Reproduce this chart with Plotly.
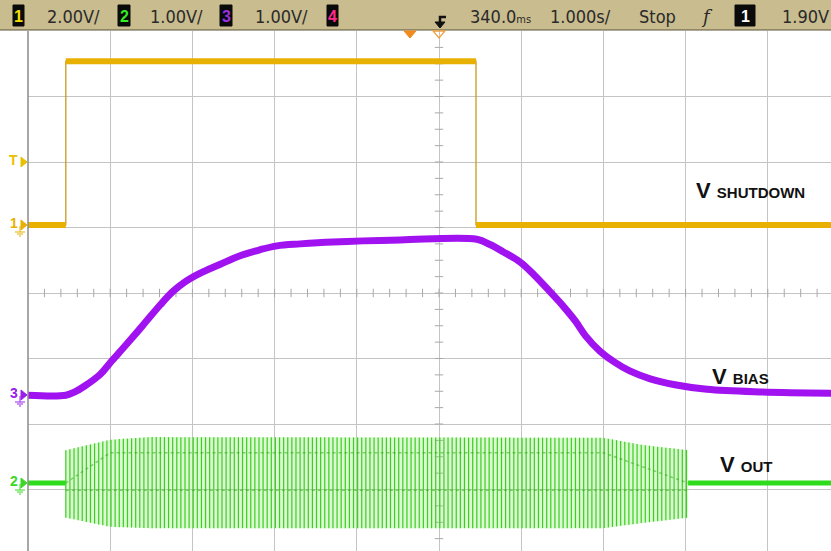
import numpy as np
import plotly.graph_objects as go

# ---- scope header ----
header_badges = ["1", "2", "3", "4"]
badge_colors = ["#f2e000", "#33ee22", "#9a30e0", "#ff2a8a"]
channel_scales = ["2.00V/", "1.00V/", "1.00V/"]
time_delay = "340.0"
time_unit = "ms"
time_scale = "1.000s/"
run_state = "Stop"
trig_channel = "1"
trig_level = "1.90V"

# ---- channel 1: V SHUTDOWN (2 V/div, ground at +1.04 div) ----
ch1_t = [0.0, 0.46, 0.46, 5.45, 5.45, 9.77]
ch1_v = [0.0, 0.0, 5.0, 5.0, 0.0, 0.0]
ch1_scale, ch1_offset = 2.0, 1.04

# ---- channel 3: V BIAS (1 V/div, ground at -1.56 div) ----
ch3_t = [0.0, 0.46, 0.57, 0.69, 0.88, 1.01, 1.18, 1.40, 1.61, 1.76, 1.91, 2.09, 2.34,
         2.58, 2.82, 3.03, 3.31, 3.71, 4.53, 5.46, 5.62, 5.78, 5.99, 6.17, 6.35, 6.51,
         6.66, 6.78, 6.96, 7.14, 7.32, 7.57, 7.87, 8.26, 8.91, 9.77]
ch3_v = [0.0, 0.0, 0.05, 0.14, 0.32, 0.51, 0.75, 1.07, 1.38, 1.58, 1.73, 1.86, 2.00,
         2.13, 2.22, 2.28, 2.31, 2.34, 2.37, 2.38, 2.30, 2.19, 2.03, 1.82, 1.58, 1.36,
         1.13, 0.91, 0.67, 0.50, 0.37, 0.25, 0.16, 0.09, 0.05, 0.03]
ch3_scale, ch3_offset = 1.0, -1.56

# ---- channel 2: V OUT (1 V/div, ground at -2.90 div), burst envelope ----
ch2_env_t = [0.46, 1.00, 1.48, 7.00, 7.48, 8.03]
ch2_env_hi = [0.50, 0.66, 0.70, 0.69, 0.58, 0.50]
ch2_env_lo = [-0.53, -0.67, -0.69, -0.69, -0.61, -0.53]
ch2_inner_t = [0.46, 1.00, 7.00, 8.03]
ch2_inner_hi = [0.0, 0.46, 0.46, 0.0]
ch2_inner_mid = [-0.11, -0.11, -0.11, -0.11]
ch2_idle_t = [[0.0, 0.46], [8.03, 9.77]]
ch2_period = 0.05
ch2_scale, ch2_offset = 1.0, -2.90

labels = [("V", "SHUTDOWN"), ("V", "BIAS"), ("V", "OUT")]

W, H = 831, 551
L, T = 28, 31
X_MAX = (W - L) / 82.2
Y_TOP = 4.0
Y_BOT = Y_TOP - (H - T) / 65.5


def px(X):
    return (X - L) / (W - L)


def py(Y):
    return (H - Y) / (H - T)


def div(v, scale, offset):
    return [None if a is None else a / scale + offset for a in v]


YELLOW = "#e8b000"
PURPLE = "#a012f0"
GREEN = "#2fdc1c"

fig = go.Figure()

# center-line minor ticks
tx = list(np.arange(0.2, X_MAX, 0.2))
fig.add_trace(go.Scatter(x=tx, y=[0] * len(tx), mode="markers",
                         marker=dict(symbol="line-ns", size=6, line=dict(color="#a8a8a8", width=1)),
                         hoverinfo="skip", showlegend=False))
ty = list(np.arange(-3.75, 4.0, 0.25))
fig.add_trace(go.Scatter(x=[5.0] * len(ty), y=ty, mode="markers",
                         marker=dict(symbol="line-ew", size=6, line=dict(color="#a8a8a8", width=1)),
                         hoverinfo="skip", showlegend=False))

# channel 2 burst
t_env = np.array(ch2_env_t)
hi = np.array(ch2_env_hi)
lo = np.array(ch2_env_lo)
fig.add_trace(go.Scatter(x=list(t_env) + list(t_env[::-1]),
                         y=div(list(hi) + list(lo[::-1]), ch2_scale, ch2_offset),
                         fill="toself", fillcolor="rgba(140,228,110,0.30)", mode="none",
                         hoverinfo="skip", showlegend=False))
sx, sy = [], []
for t in np.arange(ch2_env_t[0], ch2_env_t[-1], ch2_period):
    sx += [t, t, None]
    sy += [np.interp(t, t_env, lo), np.interp(t, t_env, hi), None]
fig.add_trace(go.Scatter(x=sx, y=div(sy, ch2_scale, ch2_offset), mode="lines",
                         line=dict(color="rgba(50,205,20,0.95)", width=1.2),
                         hoverinfo="skip", showlegend=False))
for inner in (ch2_inner_hi, ch2_inner_mid):
    fig.add_trace(go.Scatter(x=ch2_inner_t, y=div(inner, ch2_scale, ch2_offset), mode="lines",
                             line=dict(color="rgba(35,170,10,0.5)", width=1.5, dash="dot"),
                             hoverinfo="skip", showlegend=False))
for seg in ch2_idle_t:
    fig.add_trace(go.Scatter(x=seg, y=div([0.0, 0.0], ch2_scale, ch2_offset), mode="lines",
                             line=dict(color=GREEN, width=5), hoverinfo="skip", showlegend=False))

# channel 3
fig.add_trace(go.Scatter(x=ch3_t, y=div(ch3_v, ch3_scale, ch3_offset), mode="lines",
                         line=dict(color=PURPLE, width=7, shape="spline", smoothing=1.0),
                         hoverinfo="skip", showlegend=False))

# channel 1: thin edges + thick flat levels
fig.add_trace(go.Scatter(x=ch1_t, y=div(ch1_v, ch1_scale, ch1_offset), mode="lines",
                         line=dict(color="#c89a20", width=1.3), hoverinfo="skip", showlegend=False))
fx, fy = [], []
for i in range(len(ch1_t)):
    if i > 0 and ch1_t[i] == ch1_t[i - 1]:
        fx.append(None)
        fy.append(None)
    fx.append(ch1_t[i])
    fy.append(ch1_v[i])
fig.add_trace(go.Scatter(x=fx, y=div(fy, ch1_scale, ch1_offset), mode="lines",
                         line=dict(color=YELLOW, width=6), hoverinfo="skip", showlegend=False))

# trace labels
label_pos = [(8.10, 1.57), (8.30, -1.28), (8.39, -2.62)]
for (big, sub), (lx, ly) in zip(labels, label_pos):
    fig.add_annotation(x=lx, y=ly, xanchor="left", yanchor="middle", showarrow=False,
                       text="<b>%s <span style='font-size:15px'>%s</span></b>" % (big, sub),
                       font=dict(family="Liberation Sans, Arial", size=22, color="#111111"))

shapes = []
# header bar
shapes.append(dict(type="rect", xref="paper", yref="paper", x0=px(0), x1=px(W), y0=py(T - 1), y1=py(0),
                   fillcolor="#c9bc8e", line=dict(width=0), layer="above"))
shapes.append(dict(type="line", xref="paper", yref="paper", x0=px(0), x1=px(W), y0=py(T - 1), y1=py(T - 1),
                   line=dict(color="#5a5238", width=1), layer="above"))
# left border of graticule
shapes.append(dict(type="line", xref="paper", yref="paper", x0=0, x1=0, y0=0, y1=1,
                   line=dict(color="#8a8a8a", width=1.5), layer="above"))

# header badges
badge_x = [(13, 24), (118, 130), (220, 232), (327, 338), (735, 755)]
badge_txt = header_badges + [trig_channel]
badge_col = badge_colors + ["#ffffff"]
for (x0, x1), txt, col in zip(badge_x, badge_txt, badge_col):
    shapes.append(dict(type="rect", xref="paper", yref="paper", x0=px(x0), x1=px(x1), y0=py(26), y1=py(5),
                       fillcolor="#0a0a0a", line=dict(color="#0a0a0a", width=1), layer="above"))
    fig.add_annotation(xref="paper", yref="paper", x=px((x0 + x1) / 2), y=py(16), text="<b>%s</b>" % txt,
                       showarrow=False, xanchor="center", yanchor="middle",
                       font=dict(family="Liberation Sans", size=16, color=col))

hdr_font = dict(family="DejaVu Sans Condensed, Liberation Sans Narrow, Liberation Sans", size=18, color="#2a2a2a")
hdr_items = [(45, channel_scales[0]), (148, channel_scales[1]), (253, channel_scales[2]),
             (468, time_delay + "<span style='font-size:11px'>%s</span>" % time_unit),
             (548, time_scale), (637, run_state), (780, trig_level)]
for x0, txt in hdr_items:
    fig.add_annotation(xref="paper", yref="paper", x=px(x0), y=py(16), text=txt, showarrow=False,
                       xanchor="left", yanchor="middle", font=hdr_font)
fig.add_annotation(xref="paper", yref="paper", x=px(707), y=py(16), text="<i>f</i>", showarrow=False,
                   xanchor="center", yanchor="middle",
                   font=dict(family="DejaVu Serif", size=18, color="#2a2a2a"))

# trigger icon
shapes.append(dict(type="path", xref="paper", yref="paper", layer="above",
                   path="M%f,%f L%f,%f L%f,%f" % (px(446), py(17), px(440), py(17), px(440), py(23)),
                   line=dict(color="#111111", width=2.5)))
shapes.append(dict(type="path", xref="paper", yref="paper", layer="above",
                   path="M%f,%f L%f,%f L%f,%f Z" % (px(435), py(22), px(445), py(22), px(440), py(28)),
                   fillcolor="#111111", line=dict(color="#111111", width=1)))
# delay / trigger position markers
shapes.append(dict(type="path", xref="paper", yref="paper", layer="above",
                   path="M%f,%f L%f,%f L%f,%f Z" % (px(404), py(31), px(416), py(31), px(410), py(38)),
                   fillcolor="#f08a1a", line=dict(color="#f08a1a", width=1)))
shapes.append(dict(type="path", xref="paper", yref="paper", layer="above",
                   path="M%f,%f L%f,%f L%f,%f Z" % (px(433), py(31), px(445), py(31), px(439), py(38)),
                   fillcolor="rgba(0,0,0,0)", line=dict(color="#f0a040", width=1.3)))

# left channel markers
markers = [("T", 162, "#e8c000", False), ("1", 225, "#e8b000", True),
           ("3", 395, "#9a20e8", True), ("2", 483, "#3ad822", True)]
for txt, y0, col, gnd in markers:
    fig.add_annotation(xref="paper", yref="paper", x=px(20), y=py(y0 - 2), text="<b>%s</b>" % txt,
                       showarrow=False, xanchor="right", yanchor="middle",
                       font=dict(family="Liberation Sans", size=14, color=col))
    shapes.append(dict(type="path", xref="paper", yref="paper", layer="above",
                       path="M%f,%f L%f,%f L%f,%f Z" % (px(21), py(y0 - 5), px(21), py(y0 + 5), px(27), py(y0)),
                       fillcolor=col, line=dict(color=col, width=1)))
    if gnd:
        for k, (a, b) in enumerate([(15, 25), (17, 23), (19, 21)]):
            yy = y0 + 7 + 2 * k
            shapes.append(dict(type="line", xref="paper", yref="paper", layer="above",
                               x0=px(a), x1=px(b), y0=py(yy), y1=py(yy), line=dict(color=col, width=1)))
        shapes.append(dict(type="line", xref="paper", yref="paper", layer="above",
                           x0=px(20), x1=px(20), y0=py(y0 + 1), y1=py(y0 + 7), line=dict(color=col, width=1)))

fig.update_layout(
    width=W, height=H,
    margin=dict(l=L, r=0, t=T, b=0),
    paper_bgcolor="white", plot_bgcolor="white",
    showlegend=False, shapes=shapes,
)
fig.update_xaxes(range=[0, X_MAX], dtick=1, tick0=0, showgrid=True, gridcolor="#c4c4c4", gridwidth=1,
                 showticklabels=False, ticks="", zeroline=False, showline=False, fixedrange=True)
fig.update_yaxes(range=[Y_BOT, Y_TOP], dtick=1, tick0=0, showgrid=True, gridcolor="#c4c4c4", gridwidth=1,
                 showticklabels=False, ticks="", zeroline=False, showline=False, fixedrange=True)

fig.write_html("out.html", config=dict(displayModeBar=False),
               post_script="document.body.style.margin='0';document.body.style.overflow='hidden';")
